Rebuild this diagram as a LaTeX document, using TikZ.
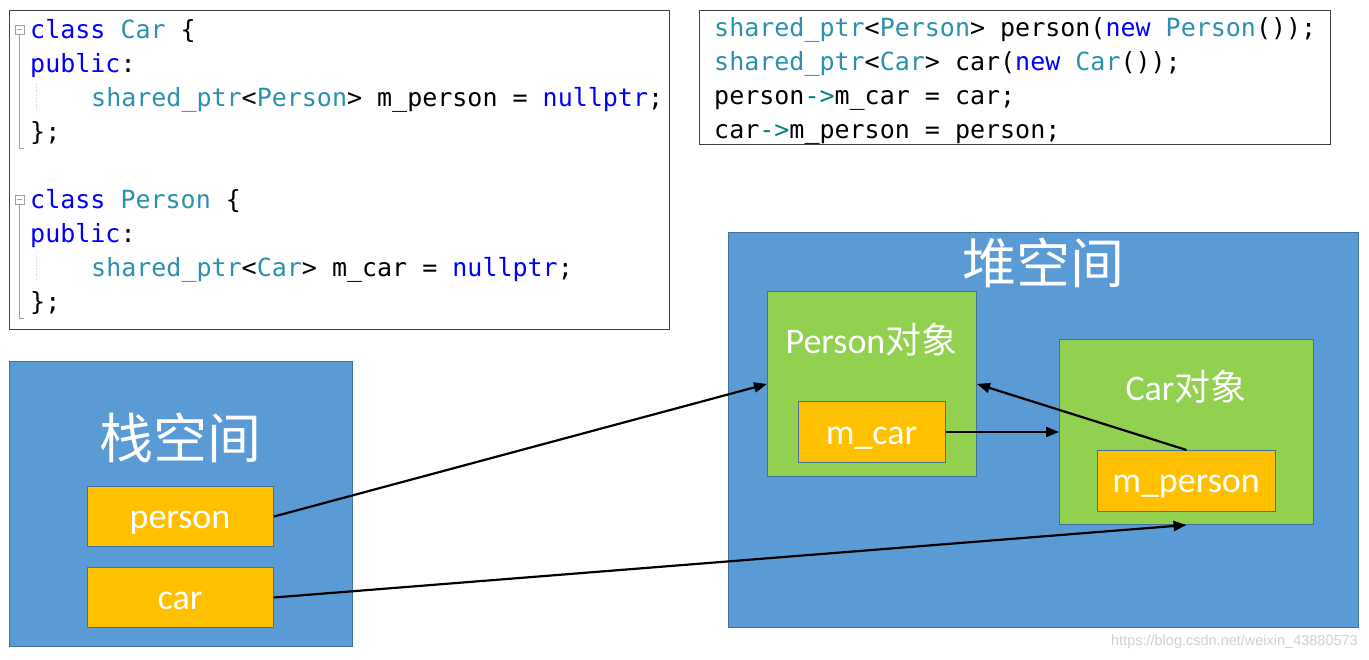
\documentclass[tikz,border=0pt]{standalone}
\usepackage{fontspec}
\usetikzlibrary{arrows.meta}
\setmonofont{DejaVu Sans Mono}
\newfontfamily\cjkf{Noto Sans CJK SC}
\newfontfamily\carl{Carlito}
\newfontfamily\wmfont{Liberation Sans}
\definecolor{kwc}{HTML}{0000FF}
\definecolor{tyc}{HTML}{2B91AF}
\definecolor{opc}{HTML}{00827F}
\definecolor{blueF}{HTML}{5B9BD5}
\definecolor{blueB}{HTML}{41719C}
\definecolor{greenF}{HTML}{92D050}
\definecolor{orangeF}{HTML}{FFC000}
\definecolor{codeB}{HTML}{404040}
\definecolor{foldc}{HTML}{A0A0A0}
\newcommand\ckw[1]{\textcolor{kwc}{#1}}
\newcommand\cty[1]{\textcolor{tyc}{#1}}
\newcommand\cop[1]{\textcolor{opc}{#1}}
\newcommand\codefont{\ttfamily\fontsize{25}{30}\selectfont\frenchspacing}
\tikzset{
  code/.style={anchor=base west, inner sep=0pt, font=\codefont},
  codebox/.style={draw=codeB, line width=1.2pt, fill=white, anchor=north west, inner sep=0pt},
  bigbox/.style={draw=blueB, line width=1.3pt, fill=blueF, anchor=north west, inner sep=0pt},
  objbox/.style={draw=blueB, line width=1pt, fill=greenF, anchor=north west, inner sep=0pt},
  fieldbox/.style={draw=blueB, line width=1pt, fill=orangeF, anchor=north west, inner sep=0pt},
  biglabel/.style={anchor=base, inner sep=0pt, text=white, font=\cjkf\fontsize{54}{60}\selectfont},
  lbl/.style={anchor=base, inner sep=0pt, text=white, font=\carl\fontsize{36}{40}\selectfont},
  arr/.style={draw=black, line width=2.2pt, -{Triangle[length=13pt,width=10pt]}},
  fold/.style={draw=foldc, line width=0.8pt},
  guide/.style={draw=foldc!50, line width=0.8pt, dotted},
}
\begin{document}
\begin{tikzpicture}[x=1pt,y=-1pt]
\useasboundingbox[fill=white] (0,0) rectangle (1369,660);

% code box 1
\node[codebox, minimum width=660pt, minimum height=319pt] (code1) at (9,10) {};
\draw[fold] (15,25) rectangle (24,34);
\draw[fold] (17,29.5) -- (22,29.5);
\draw[fold] (19.5,34) -- (19.5,148) -- (24,148);
\draw[fold] (15,195) rectangle (24,204);
\draw[fold] (17,199.5) -- (22,199.5);
\draw[fold] (19.5,204) -- (19.5,318) -- (24,318);
\draw[guide] (36,84) -- (36,112);
\draw[guide] (36,254) -- (36,282);
\node[code] (l1) at (30,39) {\ckw{class} \cty{Car} \{};
\node[code] (l2) at (30,73) {\ckw{public}:};
\node[code] (l3) at (91,107) {\cty{shared\_ptr}<\cty{Person}> m\_person = \ckw{nullptr};};
\node[code] (l4) at (30,141) {\};};
\node[code] (l5) at (30,209) {\ckw{class} \cty{Person} \{};
\node[code] (l6) at (30,243) {\ckw{public}:};
\node[code] (l7) at (91,277) {\cty{shared\_ptr}<\cty{Car}> m\_car = \ckw{nullptr};};
\node[code] (l8) at (30,311) {\};};

% code box 2
\node[codebox, minimum width=631pt, minimum height=134pt] (code2) at (699,10) {};
\node[code] (m1) at (714,37) {\cty{shared\_ptr}<\cty{Person}> person(\ckw{new} \cty{Person}());};
\node[code] (m2) at (714,71) {\cty{shared\_ptr}<\cty{Car}> car(\ckw{new} \cty{Car}());};
\node[code] (m3) at (714,105) {person\cop{->}m\_car = car;};
\node[code] (m4) at (714,139) {car\cop{->}m\_person = person;};

% stack
\node[bigbox, minimum width=343pt, minimum height=285pt] (stack) at (9,361) {};
\node[biglabel] (stacklbl) at (180,458) {栈空间};
\node[fieldbox, minimum width=186pt, minimum height=60pt] (person) at (87,486) {};
\node[lbl] (personlbl) at (180,528.5) {person};
\node[fieldbox, minimum width=186pt, minimum height=60pt] (car) at (87,567) {};
\node[lbl] (carlbl) at (180,609.5) {car};

% heap
\node[bigbox, minimum width=630pt, minimum height=395pt] (heap) at (728,232) {};
\node[biglabel] (heaplbl) at (1043,284) {堆空间};
\node[objbox, minimum width=209pt, minimum height=185pt] (pobj) at (767,291) {};
\node[lbl] (pobjlbl) at (871.5,354) {Person{\cjkf 对象}};
\node[fieldbox, minimum width=147pt, minimum height=61pt] (mcar) at (798,401) {};
\node[lbl] (mcarlbl) at (871.5,444) {m\_car};
\node[objbox, minimum width=254pt, minimum height=185pt] (cobj) at (1059,339) {};
\node[lbl] (cobjlbl) at (1186,401) {Car{\cjkf 对象}};
\node[fieldbox, minimum width=178pt, minimum height=61pt] (mperson) at (1097,450) {};
\node[lbl] (mpersonlbl) at (1186,492) {m\_person};

% arrows
\draw[arr] (person.east) -- (pobj.west);
\draw[arr] (mcar.east) -- (cobj.west);
\draw[arr] (mperson.north) -- (pobj.east);
\draw[arr] (car.east) -- (mperson.north |- cobj.south);

% watermark
\node[anchor=base east, inner sep=0pt, text=black!18, font=\wmfont\fontsize{14.5}{16}\selectfont] (wm) at (1358,645) {https://blog.csdn.net/weixin\_43880573};
\end{tikzpicture}
\end{document}
